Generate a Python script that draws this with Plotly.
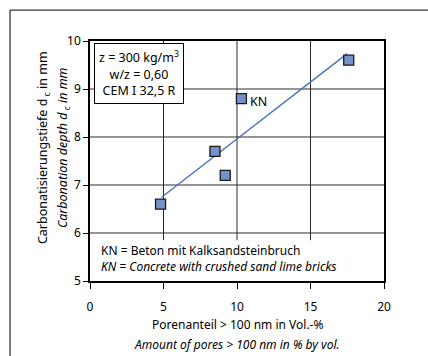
import numpy as np
import plotly.graph_objects as go

# Data
pores = [4.8, 8.5, 9.2, 10.3, 17.6]
depth = [6.6, 7.7, 7.2, 8.8, 9.6]
trend_x = [4.87, 17.5]
x_ticks = [0, 5, 10, 15, 20]
y_ticks = [5, 6, 7, 8, 9, 10]

coef = np.polyfit(pores, depth, 1)
trend_y = list(np.polyval(coef, trend_x))

FONT = "Noto Sans"
GRID = "#2a2a2a"

fig = go.Figure()
fig.add_trace(go.Scatter(x=trend_x, y=trend_y, mode="lines",
                         line=dict(color="#4a74bd", width=1.4), showlegend=False))
fig.add_trace(go.Scatter(x=pores, y=depth, mode="markers",
                         marker=dict(symbol="square", size=10, color="#7292c9",
                                     line=dict(color="#1a1a1a", width=1.3)),
                         showlegend=False))

shapes = []
for xv in x_ticks[1:-1]:
    shapes.append(dict(type="line", xref="x", yref="y", x0=xv, x1=xv, y0=5.85, y1=10,
                       line=dict(color=GRID, width=1), layer="below"))
for yv in y_ticks[1:-1]:
    shapes.append(dict(type="line", xref="x", yref="y", x0=0, x1=20, y0=yv, y1=yv,
                       line=dict(color=GRID, width=1), layer="below"))
shapes += [
    dict(type="line", xref="paper", yref="paper", x0=-0.272, x1=1.2,
         y0=1.129, y1=1.129, line=dict(color="#333", width=1.3)),
    dict(type="line", xref="paper", yref="paper", x0=-0.272, x1=-0.272,
         y0=-0.4, y1=1.129, line=dict(color="#333", width=1.3)),
]

fig.update_layout(
    width=428, height=356,
    margin=dict(l=90, r=44, t=41, b=75),
    paper_bgcolor="white", plot_bgcolor="white",
    font=dict(family=FONT, size=12, color="black"),
    xaxis=dict(range=[0, 20], tickvals=x_ticks, showgrid=False,
               showline=True, linecolor="black", linewidth=1.5,
               mirror=True, ticks="outside", ticklen=6, tickcolor="black",
               ticklabelstandoff=8, zeroline=False,
               tickfont=dict(family=FONT, size=12)),
    yaxis=dict(range=[5, 10], tickvals=y_ticks, showgrid=False,
               showline=True, linecolor="black", linewidth=1.5,
               mirror=True, ticks="outside", ticklen=5, tickcolor="black",
               zeroline=False, tickfont=dict(family=FONT, size=12)),
    shapes=shapes,
    annotations=[
        dict(xref="x", yref="y", x=0.3, y=9.96, xanchor="left", yanchor="top",
             text="z = 300 kg/m<sup>3</sup><br>w/z = 0,60<br>CEM I 32,5 R",
             showarrow=False, align="center", bgcolor="white",
             bordercolor="black", borderwidth=1, borderpad=4,
             font=dict(family=FONT, size=12.5)),
        dict(xref="x", yref="y", x=10.75, y=8.73, xanchor="left", yanchor="middle",
             text="KN", showarrow=False, font=dict(family=FONT, size=12.5)),
        dict(xref="x", yref="y", x=0.6, y=5.47, xanchor="left", yanchor="middle",
             align="left",
             text="KN = Beton mit Kalksandsteinbruch<br><i>KN = Concrete with crushed sand lime bricks</i>",
             showarrow=False, font=dict(family=FONT, size=12)),
        dict(xref="paper", yref="paper", x=0.5, y=-0.183, xanchor="center", yanchor="middle",
             text="Porenanteil > 100 nm in Vol.-%", showarrow=False,
             font=dict(family=FONT, size=12)),
        dict(xref="paper", yref="paper", x=0.5, y=-0.266, xanchor="center", yanchor="middle",
             text="<i>Amount of pores > 100 nm in % by vol.</i>", showarrow=False,
             font=dict(family=FONT, size=12)),
        dict(xref="paper", yref="paper", x=-0.158, y=0.556, xanchor="center", yanchor="middle",
             text="Carbonatisierungstiefe d<sub> c</sub> in mm", textangle=-90, showarrow=False,
             font=dict(family=FONT, size=12.5)),
        dict(xref="paper", yref="paper", x=-0.09, y=0.556, xanchor="center", yanchor="middle",
             text="<i>Carbonation depth d<sub> c</sub> in mm</i>", textangle=-90, showarrow=False,
             font=dict(family=FONT, size=12.5)),
    ],
)

fig.write_html("out.html")
